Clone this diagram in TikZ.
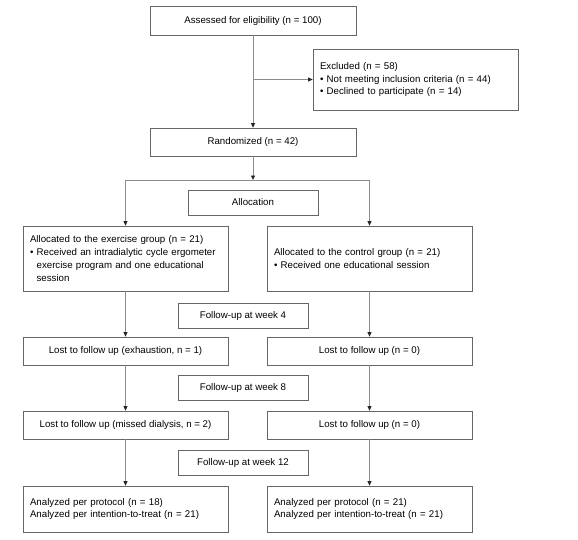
\documentclass[tikz,border=0pt]{standalone}
\usepackage{fontspec}
\setmainfont{Liberation Sans}
\usetikzlibrary{arrows.meta}
\tikzset{
  box/.style={draw=black!60, line width=0.7pt, minimum width=205pt, minimum height=28pt,
    inner xsep=7pt, inner ysep=0pt, font=\fontsize{9.7}{12.9}\selectfont, align=center},
  lbox/.style={box, align=left, text width=191pt},
  smallbox/.style={box, minimum width=130pt, minimum height=25pt},
  link/.style={draw=black!45, line width=0.8pt, -{Triangle[length=4.5pt,width=4pt,color=black!85]}},
  plain/.style={draw=black!45, line width=0.8pt}
}
\newcommand{\ind}{\phantom{\textbullet\ }}
\begin{document}
\begin{tikzpicture}[x=1pt,y=-1pt]
\useasboundingbox (0,0) rectangle (578,539);

% Enrollment
\node[box, minimum width=206pt, minimum height=29pt] (assess) at (253,20.5) {Assessed for eligibility (n = 100)};
\node[lbox, minimum height=61pt] (excl) at (415.5,79.5) {Excluded (n = 58)\\
  \textbullet\ Not meeting inclusion criteria (n = 44)\\
  \textbullet\ Declined to participate (n = 14)};
\node[box, minimum width=206pt] (rand) at (253,142) {Randomized (n = 42)};

% Allocation
\node[smallbox] (alloc) at (253,202.5) {Allocation};
\node[lbox, minimum height=65pt] (ex) at (125.5,258.5) {Allocated to the exercise group (n = 21)\\
  \textbullet\ Received an intradialytic cycle ergometer\\
  \ind exercise program and one educational\\
  \ind session};
\node[lbox, minimum height=65pt] (ctrl) at (369.5,258.5) {Allocated to the control group (n = 21)\\
  \textbullet\ Received one educational session};

% Follow-up
\node[smallbox] (fu4) at (243,315.5) {Follow-up at week 4};
\node[box] (lostAl) at (125.5,351) {Lost to follow up (exhaustion, n = 1)};
\node[box] (lostAr) at (369.5,351) {Lost to follow up (n = 0)};
\node[smallbox] (fu8) at (243,387.5) {Follow-up at week 8};
\node[box] (lostBl) at (125.5,425) {Lost to follow up (missed dialysis, n = 2)};
\node[box] (lostBr) at (369.5,425) {Lost to follow up (n = 0)};
\node[smallbox] (fu12) at (243,462.5) {Follow-up at week 12};

% Analysis
\node[lbox, minimum height=46pt] (anl) at (125.5,509) {Analyzed per protocol (n = 18)\\
  Analyzed per intention-to-treat (n = 21)};
\node[lbox, minimum height=46pt] (anr) at (369.5,509) {Analyzed per protocol (n = 21)\\
  Analyzed per intention-to-treat (n = 21)};

% Connectors
\coordinate (split) at (253,180);
\coordinate (exc) at (assess.south |- excl.west);
\draw[link] (assess) -- (rand);
\draw[link] (exc) -- (excl.west);
\draw[link] (rand) -- (split);
\draw[plain] (ex.north |- split) -- (ctrl.north |- split);
\draw[link] (ex.north |- split) -- (ex.north);
\draw[link] (ctrl.north |- split) -- (ctrl.north);
\draw[link] (ex) -- (lostAl);
\draw[link] (ctrl) -- (lostAr);
\draw[link] (lostAl) -- (lostBl);
\draw[link] (lostAr) -- (lostBr);
\draw[link] (lostBl) -- (anl);
\draw[link] (lostBr) -- (anr);
\end{tikzpicture}
\end{document}
